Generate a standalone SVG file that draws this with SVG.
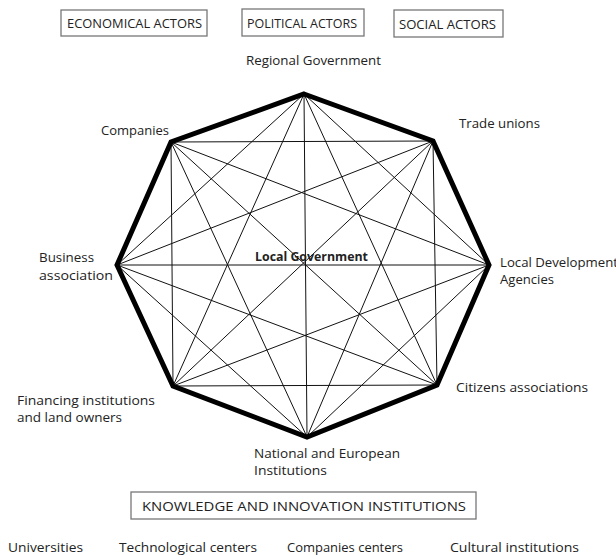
<svg xmlns="http://www.w3.org/2000/svg" width="616" height="556" viewBox="0 0 616 556">
<style>
  .lbl { font-family: "Open Sans", "Liberation Sans", sans-serif; font-size: 13px; fill: #222; }
  .cap { font-family: "Open Sans", "Liberation Sans", sans-serif; font-size: 12.5px; fill: #222; }
  .box { fill: #fff; stroke: #777; stroke-width: 1.3; }
  .diag { stroke: #111; stroke-width: 1; fill: none; }
  .oct { stroke: #000; stroke-width: 5; fill: none; stroke-linejoin: miter; }
</style>
<rect width="616" height="556" fill="#fff"/>

<g id="economical-actors">
  <rect class="box" x="61" y="10" width="146" height="26"/>
  <text class="cap" x="67" y="28" textLength="135" lengthAdjust="spacingAndGlyphs">ECONOMICAL ACTORS</text>
</g>
<g id="political-actors">
  <rect class="box" x="242" y="9" width="122" height="27"/>
  <text class="cap" x="247" y="28" textLength="110" lengthAdjust="spacingAndGlyphs">POLITICAL ACTORS</text>
</g>
<g id="social-actors">
  <rect class="box" x="394" y="10" width="109" height="27"/>
  <text class="cap" x="399" y="29" textLength="97" lengthAdjust="spacingAndGlyphs">SOCIAL ACTORS</text>
</g>

<g id="connectors">
  <g class="diag">
    <line x1="304" y1="94" x2="489" y2="265"/>
    <line x1="304" y1="94" x2="437" y2="385"/>
    <line x1="304" y1="94" x2="307" y2="437"/>
    <line x1="304" y1="94" x2="173" y2="386"/>
    <line x1="304" y1="94" x2="117" y2="265"/>
    <line x1="433" y1="141" x2="437" y2="385"/>
    <line x1="433" y1="141" x2="307" y2="437"/>
    <line x1="433" y1="141" x2="173" y2="386"/>
    <line x1="433" y1="141" x2="117" y2="265"/>
    <line x1="433" y1="141" x2="171" y2="142"/>
    <line x1="489" y1="265" x2="307" y2="437"/>
    <line x1="489" y1="265" x2="173" y2="386"/>
    <line x1="489" y1="265" x2="117" y2="265"/>
    <line x1="489" y1="265" x2="171" y2="142"/>
    <line x1="437" y1="385" x2="173" y2="386"/>
    <line x1="437" y1="385" x2="117" y2="265"/>
    <line x1="437" y1="385" x2="171" y2="142"/>
    <line x1="307" y1="437" x2="117" y2="265"/>
    <line x1="307" y1="437" x2="171" y2="142"/>
    <line x1="173" y1="386" x2="171" y2="142"/>
  </g>
  <polygon class="oct" points="304,94 433,141 489,265 437,385 307,437 173,386 117,265 171,142"/>
</g>

<g id="node-regional-government">
  <text class="lbl" x="246" y="65" textLength="135" lengthAdjust="spacingAndGlyphs">Regional Government</text>
</g>
<g id="node-trade-unions">
  <text class="lbl" x="459" y="128" textLength="81" lengthAdjust="spacingAndGlyphs">Trade unions</text>
</g>
<g id="node-companies">
  <text class="lbl" x="101" y="135" textLength="68" lengthAdjust="spacingAndGlyphs">Companies</text>
</g>
<g id="node-local-government">
  <text class="lbl" x="255" y="261" font-weight="bold" textLength="113" lengthAdjust="spacingAndGlyphs">Local Government</text>
</g>
<g id="node-business-association">
  <text class="lbl" x="39" y="262" textLength="55" lengthAdjust="spacingAndGlyphs">Business</text>
  <text class="lbl" x="39" y="280" textLength="74" lengthAdjust="spacingAndGlyphs">association</text>
</g>
<g id="node-local-development-agencies">
  <text class="lbl" x="500" y="267" textLength="118" lengthAdjust="spacingAndGlyphs">Local Development</text>
  <text class="lbl" x="500" y="284" textLength="54" lengthAdjust="spacingAndGlyphs">Agencies</text>
</g>
<g id="node-citizens-associations">
  <text class="lbl" x="456" y="392" textLength="132" lengthAdjust="spacingAndGlyphs">Citizens associations</text>
</g>
<g id="node-financing-institutions">
  <text class="lbl" x="17" y="405" textLength="138" lengthAdjust="spacingAndGlyphs">Financing institutions</text>
  <text class="lbl" x="17" y="422" textLength="105" lengthAdjust="spacingAndGlyphs">and land owners</text>
</g>
<g id="node-national-european">
  <text class="lbl" x="254" y="458" textLength="146" lengthAdjust="spacingAndGlyphs">National and European</text>
  <text class="lbl" x="254" y="475" textLength="73" lengthAdjust="spacingAndGlyphs">Institutions</text>
</g>

<g id="knowledge-institutions">
  <rect class="box" x="131" y="492" width="345" height="27"/>
  <text class="cap" x="142" y="511" textLength="324" lengthAdjust="spacingAndGlyphs">KNOWLEDGE AND INNOVATION INSTITUTIONS</text>
</g>
<g id="universities">
  <text class="lbl" x="8" y="552" textLength="75" lengthAdjust="spacingAndGlyphs">Universities</text>
</g>
<g id="technological-centers">
  <text class="lbl" x="119" y="552" textLength="138" lengthAdjust="spacingAndGlyphs">Technological centers</text>
</g>
<g id="companies-centers">
  <text class="lbl" x="287" y="552" textLength="116" lengthAdjust="spacingAndGlyphs">Companies centers</text>
</g>
<g id="cultural-institutions">
  <text class="lbl" x="450" y="552" textLength="129" lengthAdjust="spacingAndGlyphs">Cultural institutions</text>
</g>
</svg>
